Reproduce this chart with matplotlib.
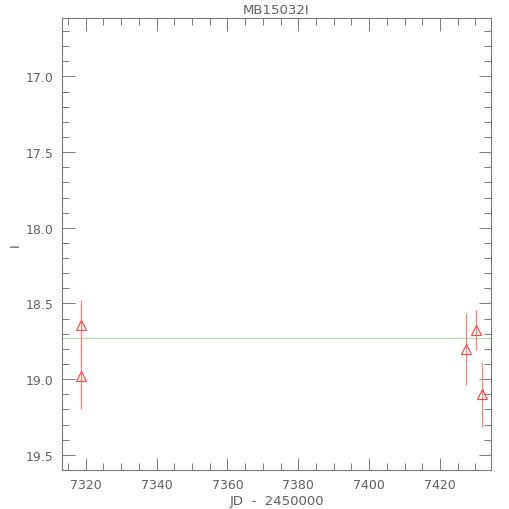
import matplotlib
matplotlib.use('Agg')
import matplotlib.pyplot as plt
from matplotlib.ticker import MultipleLocator

# photometry points (JD - 2450000, I magnitude, error)
jd = [7318.7, 7318.7, 7427.3, 7430.3, 7432.0]
mag = [18.64, 18.98, 18.80, 18.675, 19.10]
err = [0.165, 0.22, 0.24, 0.135, 0.215]
mean_mag = 18.73

grey = '#7a7a7a'

fig = plt.figure(figsize=(5.1, 5.1), dpi=100)
ax = fig.add_axes([0.1216, 0.0765, 0.841, 0.886])

ax.axhline(mean_mag, color='#b0d8b0', lw=0.9, zorder=1)
ax.errorbar(jd, mag, yerr=err, fmt='none', ecolor='#ff8080', elinewidth=0.9, zorder=2)
ax.plot(jd, mag, ls='none', marker='^', ms=7, mfc='none', mec='#ff4040', mew=0.8, zorder=3)

ax.set_xlim(7313.3, 7434.4)
ax.set_ylim(19.60, 16.615)

ax.xaxis.set_major_locator(MultipleLocator(20))
ax.xaxis.set_minor_locator(MultipleLocator(5))
ax.yaxis.set_major_locator(MultipleLocator(0.5))
ax.yaxis.set_minor_locator(MultipleLocator(0.1))
ax.yaxis.set_major_formatter(matplotlib.ticker.FormatStrFormatter('%.1f'))

for s in ax.spines.values():
    s.set_color(grey)
    s.set_linewidth(0.8)
ax.tick_params(which='both', direction='in', top=True, right=True, colors=grey,
               labelcolor='#606060', labelsize=9, width=0.7)
ax.tick_params(which='major', length=9, pad=6)
ax.tick_params(which='minor', length=5)

ax.set_title('MB15032I', color='#606060', fontsize=9.5, pad=4)
ax.set_xlabel('JD  -  2450000', color='#606060', fontsize=9.5, labelpad=2)
ax.set_ylabel('I', color='#606060', fontsize=9.5)
ax.yaxis.set_label_coords(-0.093, 0.5)

fig.savefig('out.png', dpi=100)
